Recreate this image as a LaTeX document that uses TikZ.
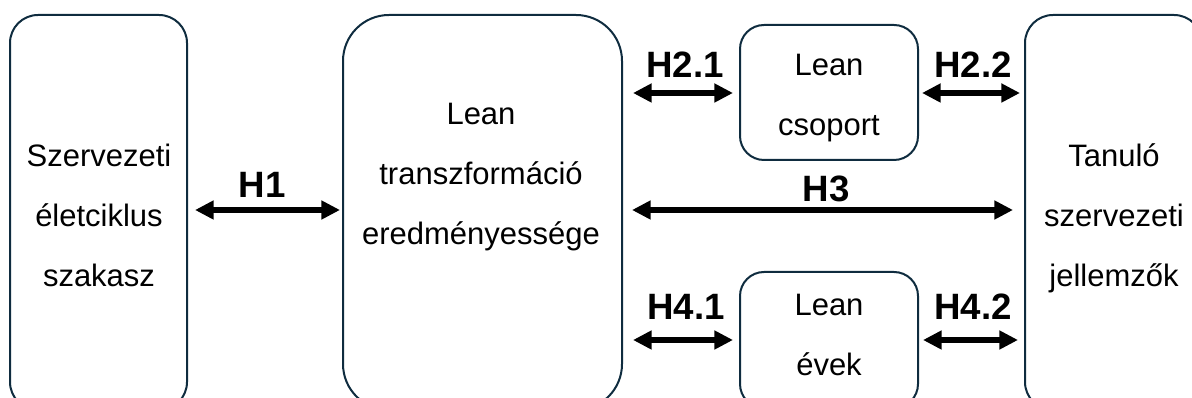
\documentclass[tikz,border=0pt]{standalone}
\usepackage{fontspec}
\setmainfont{Liberation Sans}
\usetikzlibrary{arrows.meta}
\definecolor{boxline}{HTML}{0F2C3F}
% centred block of lines whose reference point is the first baseline
\newcommand{\linesblock}[1]{\begin{tabular}[t]{@{}c@{}}#1\end{tabular}}

\begin{document}
\begin{tikzpicture}[x=0.75pt,y=-0.75pt,
  box/.style={draw=boxline, line width=1.5pt, rectangle, inner sep=0pt, outer sep=0pt},
  bigbox/.style={box, minimum width=132.75pt, minimum height=296.25pt, rounded corners=21pt},
  smallbox/.style={box, minimum width=133.5pt, rounded corners=18pt},
  body/.style={anchor=base, inner sep=0pt, font=\fontsize{23.25pt}{45pt}\selectfont},
  hyp/.style={anchor=base, inner sep=0pt, font=\fontsize{27.5pt}{30pt}\selectfont\bfseries},
  link/.style={line width=4pt, {Triangle[length=14pt,width=13.5pt]}-{Triangle[length=14pt,width=13.5pt]}}
]
\useasboundingbox (0,0) rectangle (1192,398);
\clip (0,0) rectangle (1192,398);

% boxes
\node[bigbox] (life) at (98.5,212.5) {};
\node[bigbox, minimum width=209.25pt, rounded corners=34.5pt] (lean) at (482.5,212.5) {};
\node[smallbox, minimum height=101.25pt] (group) at (829,92.5) {};
\node[smallbox, minimum height=102pt] (years) at (829,340) {};
\node[bigbox] (learn) at (1113.5,212.5) {};

% box texts
\node[body] (lifetext) at (99,167) {\linesblock{Szervezeti\\ életciklus\\ szakasz}};
\node[body] (leantext) at (481,125) {\linesblock{Lean\\ transzformáció\\ eredményessége}};
\node[body] (grouptext) at (829,76) {\linesblock{Lean\\ csoport}};
\node[body] (yearstext) at (829,316) {\linesblock{Lean\\ évek}};
\node[body] (learntext) at (1114,167) {\linesblock{Tanuló\\ szervezeti\\ jellemzők}};

% hypothesis links
\draw[link, shorten <=6pt, shorten >=2.25pt] (life.east |- 0,210) -- (lean.west |- 0,210);
\draw[link, shorten <=8.25pt, shorten >=5.25pt] (lean.east |- 0,93) -- (group.west |- 0,93);
\draw[link, shorten <=3pt, shorten >=3.75pt] (group.east |- 0,93) -- (learn.west |- 0,93);
\draw[link, shorten <=7.5pt, shorten >=9pt] (lean.east |- 0,210) -- (learn.west |- 0,210);
\draw[link, shorten <=8.25pt, shorten >=5.25pt] (lean.east |- 0,340) -- (years.west |- 0,340);
\draw[link, shorten <=3.75pt, shorten >=5.25pt] (years.east |- 0,340) -- (learn.west |- 0,340);

% hypothesis labels
\node[hyp] (h1) at (262,198) {H1};
\node[hyp] (h21) at (685,78) {H2.1};
\node[hyp] (h22) at (973,78) {H2.2};
\node[hyp] (h3) at (826,202) {H3};
\node[hyp] (h41) at (686,320) {H4.1};
\node[hyp] (h42) at (973,320) {H4.2};
\end{tikzpicture}
\end{document}
